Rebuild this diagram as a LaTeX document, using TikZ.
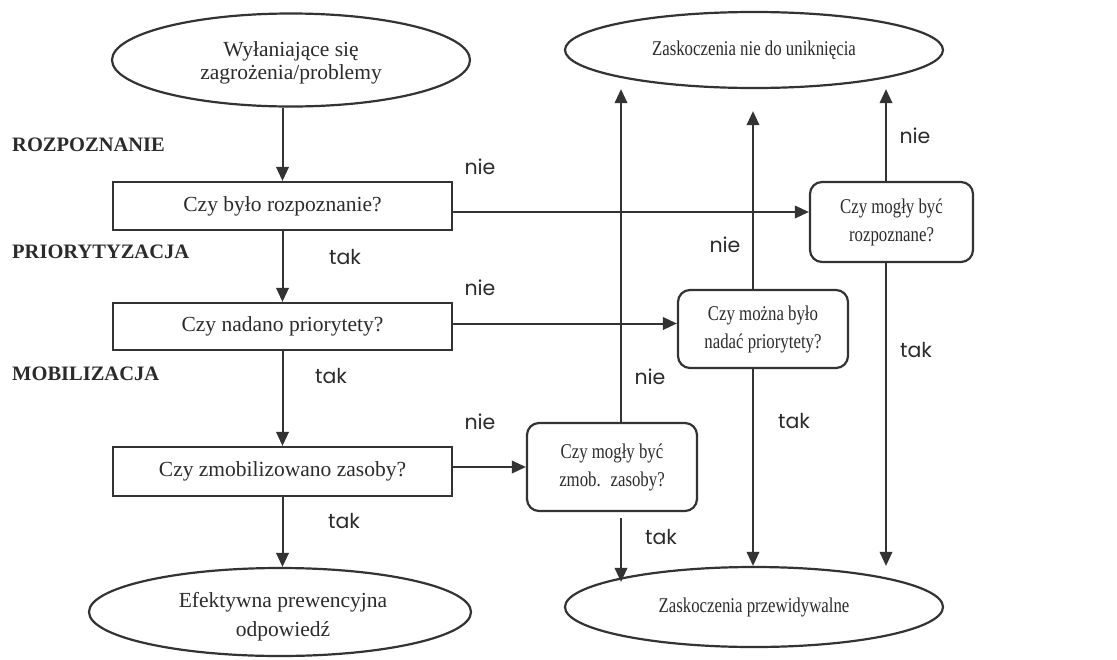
\documentclass[tikz,border=0pt]{standalone}
\usepackage{fontspec}
\setmainfont{Liberation Serif}
\newfontfamily\condserif[FakeStretch=0.8]{Liberation Serif}
\newfontfamily\lblfont{Poppins}
\usetikzlibrary{arrows.meta,shapes.geometric}
\definecolor{ink}{HTML}{2B2B2B}
\definecolor{linec}{HTML}{333333}
\newcommand\fLeft{\fontsize{21.5}{23}\selectfont}
\newcommand\fRight{\condserif\fontsize{21}{28}\selectfont}
\begin{document}
\begin{tikzpicture}[x=1pt,y=-1pt,
  ell/.style={ellipse, draw=linec, line width=2.2pt, inner sep=0pt, align=center, text=ink},
  etext/.style={inner sep=0pt, align=center, text=ink, font=\fLeft},
  sq/.style={rectangle, draw=linec, line width=2.2pt, minimum width=339pt, inner sep=0pt, font=\fLeft, text=ink},
  rnd/.style={rectangle, rounded corners=12pt, draw=linec, line width=2.2pt, inner sep=0pt, align=center, font=\fRight, text=ink},
  arr/.style={-{Triangle[length=14pt,width=12.5pt]}, line width=2pt, draw=linec},
  lbl/.style={font=\lblfont\fontsize{20.5}{20.5}\selectfont, anchor=base, text=ink, inner sep=0pt},
  phase/.style={font=\bfseries\fontsize{20.5}{20.5}\selectfont, anchor=west, text=ink, inner sep=0pt}]
\useasboundingbox (0,0) rectangle (1117,659);
% left column
\node[ell, minimum width=358pt, minimum height=93pt] (start) at (291,60) {};
\node[etext] (startt) at ([yshift=-3pt]start.center) {Wyłaniające się\\zagrożenia/problemy};
\node[sq, minimum height=48pt] (b1) at (282.5,206) {Czy było rozpoznanie?};
\node[sq, minimum height=47pt] (b2) at (282.5,326.5) {Czy nadano priorytety?};
\node[sq, minimum height=49pt] (b3) at (282.5,471.5) {Czy zmobilizowano zasoby?};
\node[ell, minimum width=382pt, minimum height=88pt] (end) at (280,612) {};
\node[etext] (endt) at ([xshift=3pt,yshift=-5pt]end.center) {Efektywna prewencyjna\\[6pt]odpowiedź};
% right column
\node[ell, minimum width=378pt, minimum height=76pt, font=\fRight] (top) at (754,50) {Zaskoczenia nie do uniknięcia};
\node[ell, minimum width=378pt, minimum height=80pt, font=\fRight] (bot) at (754,607) {Zaskoczenia przewidywalne};
\node[rnd, minimum width=163pt, minimum height=80pt] (r1) at (891.5,222) {Czy mogły być\\rozpoznane?};
\node[rnd, minimum width=170pt, minimum height=78pt] (r2) at (763,329) {Czy można było\\nadać priorytety?};
\node[rnd, minimum width=170pt, minimum height=88pt] (r3) at (612,467) {Czy mogły być\\zmob.~ zasoby?};
% phase labels
\node[phase] (p1) at (12,145) {ROZPOZNANIE};
\node[phase] (p2) at (12,252) {PRIORYTYZACJA};
\node[phase] (p3) at (12,374) {MOBILIZACJA};
% main flow
\draw[arr] (start.south -| b1.north) -- (b1.north);
\draw[arr] (b1) -- (b2);
\draw[arr] (b2) -- (b3);
\draw[arr] (b3.south) -- (b3.south |- end.north);
% horizontal
\draw[arr] ([yshift=-6pt]b1.east) -- ([yshift=-6pt]b1.east -| r1.west);
\draw[arr] ([yshift=3pt]b2.east) -- ([yshift=3pt]b2.east -| r2.west);
\draw[arr] (r3.west -| b3.east) -- (r3.west);
% vertical
\coordinate (n3) at ([xshift=9pt]r3.north);
\coordinate (s3) at ([xshift=9pt,yshift=-6pt]r3.south);
\coordinate (n2) at ([xshift=-10pt]r2.north);
\coordinate (s2) at ([xshift=-10pt]r2.south);
\coordinate (n1) at ([xshift=-5.5pt]r1.north);
\coordinate (s1) at ([xshift=-5.5pt]r1.south);
\coordinate (tp) at ([yshift=-22pt]top.south);
\coordinate (bp) at ([yshift=-16pt]bot.north);
\draw[arr] (n3) -- (n3 |- top.south);
\draw[arr] (s3) -- (s3 |- bp);
\draw[arr] (n2) -- (n2 |- tp);
\draw[arr] (s2) -- (s2 |- bot.north);
\draw[arr] (n1) -- (n1 |- top.south);
\draw[arr] (s1) -- (s1 |- bot.north);
% tak / nie labels
\node[lbl] (t1) at (345,264) {tak};
\node[lbl] (t2) at (331,383) {tak};
\node[lbl] (t3) at (344,528) {tak};
\node[lbl] (m1) at (480,174) {nie};
\node[lbl] (m2) at (480,295) {nie};
\node[lbl] (m3) at (480,429) {nie};
\node[lbl] (m4) at (915,143) {nie};
\node[lbl] (m5) at (725,252) {nie};
\node[lbl] (m6) at (650,384) {nie};
\node[lbl] (t4) at (916,357) {tak};
\node[lbl] (t5) at (794,428) {tak};
\node[lbl] (t6) at (661,544) {tak};
\end{tikzpicture}
\end{document}
